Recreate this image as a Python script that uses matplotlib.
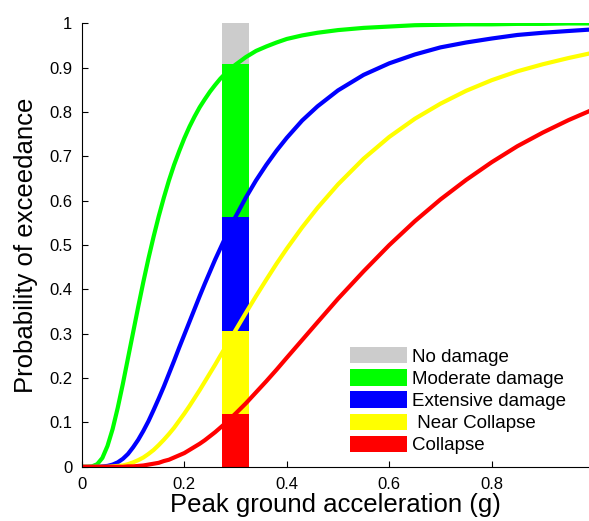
import numpy as np
import matplotlib.pyplot as plt
from matplotlib.patches import Patch
from matplotlib.ticker import FormatStrFormatter

plt.rcParams['font.family'] = ['Liberation Sans', 'DejaVu Sans']

# peak ground acceleration (g) and exceedance probabilities
pga = [0.00, 0.01, 0.02, 0.03, 0.04, 0.05, 0.06, 0.07, 0.08, 0.09,
       0.10, 0.11, 0.12, 0.13, 0.14, 0.15, 0.16, 0.17, 0.18, 0.19,
       0.20, 0.21, 0.22, 0.23, 0.24, 0.25, 0.26, 0.27, 0.28, 0.29,
       0.30, 0.32, 0.34, 0.36, 0.38, 0.40, 0.43, 0.46, 0.50, 0.55,
       0.60, 0.65, 0.70, 0.75, 0.80, 0.85, 0.90, 0.95, 0.99]
p_moderate = [0, 0, 0.001, 0.006, 0.020, 0.047, 0.085, 0.133, 0.187, 0.245,
              0.303, 0.361, 0.417, 0.470, 0.519, 0.565, 0.607, 0.646, 0.681, 0.712,
              0.741, 0.767, 0.790, 0.811, 0.829, 0.846, 0.861, 0.875, 0.887, 0.898,
              0.907, 0.924, 0.938, 0.948, 0.957, 0.965, 0.973, 0.979, 0.985, 0.990,
              0.993, 0.996, 0.997, 0.998, 0.998, 0.999, 0.999, 1.0, 1.0]
p_extensive = [0, 0, 0, 0, 0.001, 0.002, 0.005, 0.010, 0.018, 0.029,
               0.044, 0.061, 0.081, 0.103, 0.128, 0.154, 0.181, 0.210, 0.239, 0.269,
               0.298, 0.327, 0.356, 0.385, 0.413, 0.440, 0.467, 0.492, 0.517, 0.541,
               0.564, 0.607, 0.646, 0.681, 0.713, 0.742, 0.781, 0.813, 0.849, 0.884,
               0.910, 0.930, 0.946, 0.957, 0.966, 0.974, 0.979, 0.983, 0.986]
p_near = [0, 0, 0, 0, 0, 0, 0.001, 0.002, 0.003, 0.006,
          0.010, 0.015, 0.021, 0.029, 0.038, 0.049, 0.061, 0.074, 0.088, 0.104,
          0.120, 0.137, 0.155, 0.173, 0.192, 0.211, 0.230, 0.250, 0.269, 0.289,
          0.308, 0.347, 0.385, 0.422, 0.458, 0.492, 0.540, 0.584, 0.637, 0.695,
          0.744, 0.785, 0.819, 0.848, 0.872, 0.892, 0.908, 0.922, 0.932]
p_collapse = [0, 0, 0, 0, 0, 0, 0, 0, 0, 0.001,
              0.001, 0.002, 0.003, 0.005, 0.007, 0.009, 0.013, 0.016, 0.021, 0.026,
              0.031, 0.038, 0.045, 0.052, 0.060, 0.069, 0.078, 0.088, 0.098, 0.109,
              0.120, 0.143, 0.168, 0.193, 0.219, 0.246, 0.286, 0.326, 0.379, 0.441,
              0.500, 0.554, 0.603, 0.647, 0.687, 0.723, 0.754, 0.782, 0.802]

# damage state bar at PGA = 0.3 g
bar_pga = 0.3
bar_tops = [0.12, 0.306, 0.564, 0.908, 1.0]
bar_labels = ['Collapse', ' Near Collapse', 'Extensive damage', 'Moderate damage', 'No damage']
bar_colors = ['#ff0000', '#ffff00', '#0000ff', '#00ff00', '#cccccc']

fig = plt.figure(figsize=(5.89, 5.21), dpi=100)
ax = fig.add_axes([0.139, 0.104, 0.861, 0.851])

bottom = 0
handles = []
for top, lab, c in zip(bar_tops, bar_labels, bar_colors):
    ax.bar(bar_pga, top - bottom, width=0.053, bottom=bottom, color=c, zorder=1)
    handles.append(Patch(facecolor=c, edgecolor='none', label=lab))
    bottom = top

for p, c in zip([p_moderate, p_extensive, p_near, p_collapse],
                ['#00ff00', '#0000ff', '#ffff00', '#ff0000']):
    ax.plot(pga, p, color=c, lw=3, zorder=2, solid_joinstyle='round')

ax.set_xlim(0, 0.99)
ax.set_ylim(0, 1)
ax.set_xticks([0, 0.2, 0.4, 0.6, 0.8])
ax.set_yticks(np.arange(0, 1.01, 0.1))
ax.xaxis.set_major_formatter(FormatStrFormatter('%g'))
ax.yaxis.set_major_formatter(FormatStrFormatter('%g'))
ax.tick_params(direction='in', labelsize=12, length=4, pad=7)
ax.spines['top'].set_visible(False)
ax.spines['right'].set_visible(False)
ax.set_xlabel('Peak ground acceleration (g)', fontsize=18.5, labelpad=1)
ax.set_ylabel('Probability of exceedance', fontsize=18.5, labelpad=8)

ax.legend(handles=handles[::-1], loc='lower left', bbox_to_anchor=(0.5235, 0.0285),
          bbox_transform=ax.transData, frameon=False, fontsize=13.5, borderpad=0,
          borderaxespad=0, handlelength=3.04, handleheight=0.95, labelspacing=0.19,
          handletextpad=0.27)

fig.savefig('out.png', dpi=100)
